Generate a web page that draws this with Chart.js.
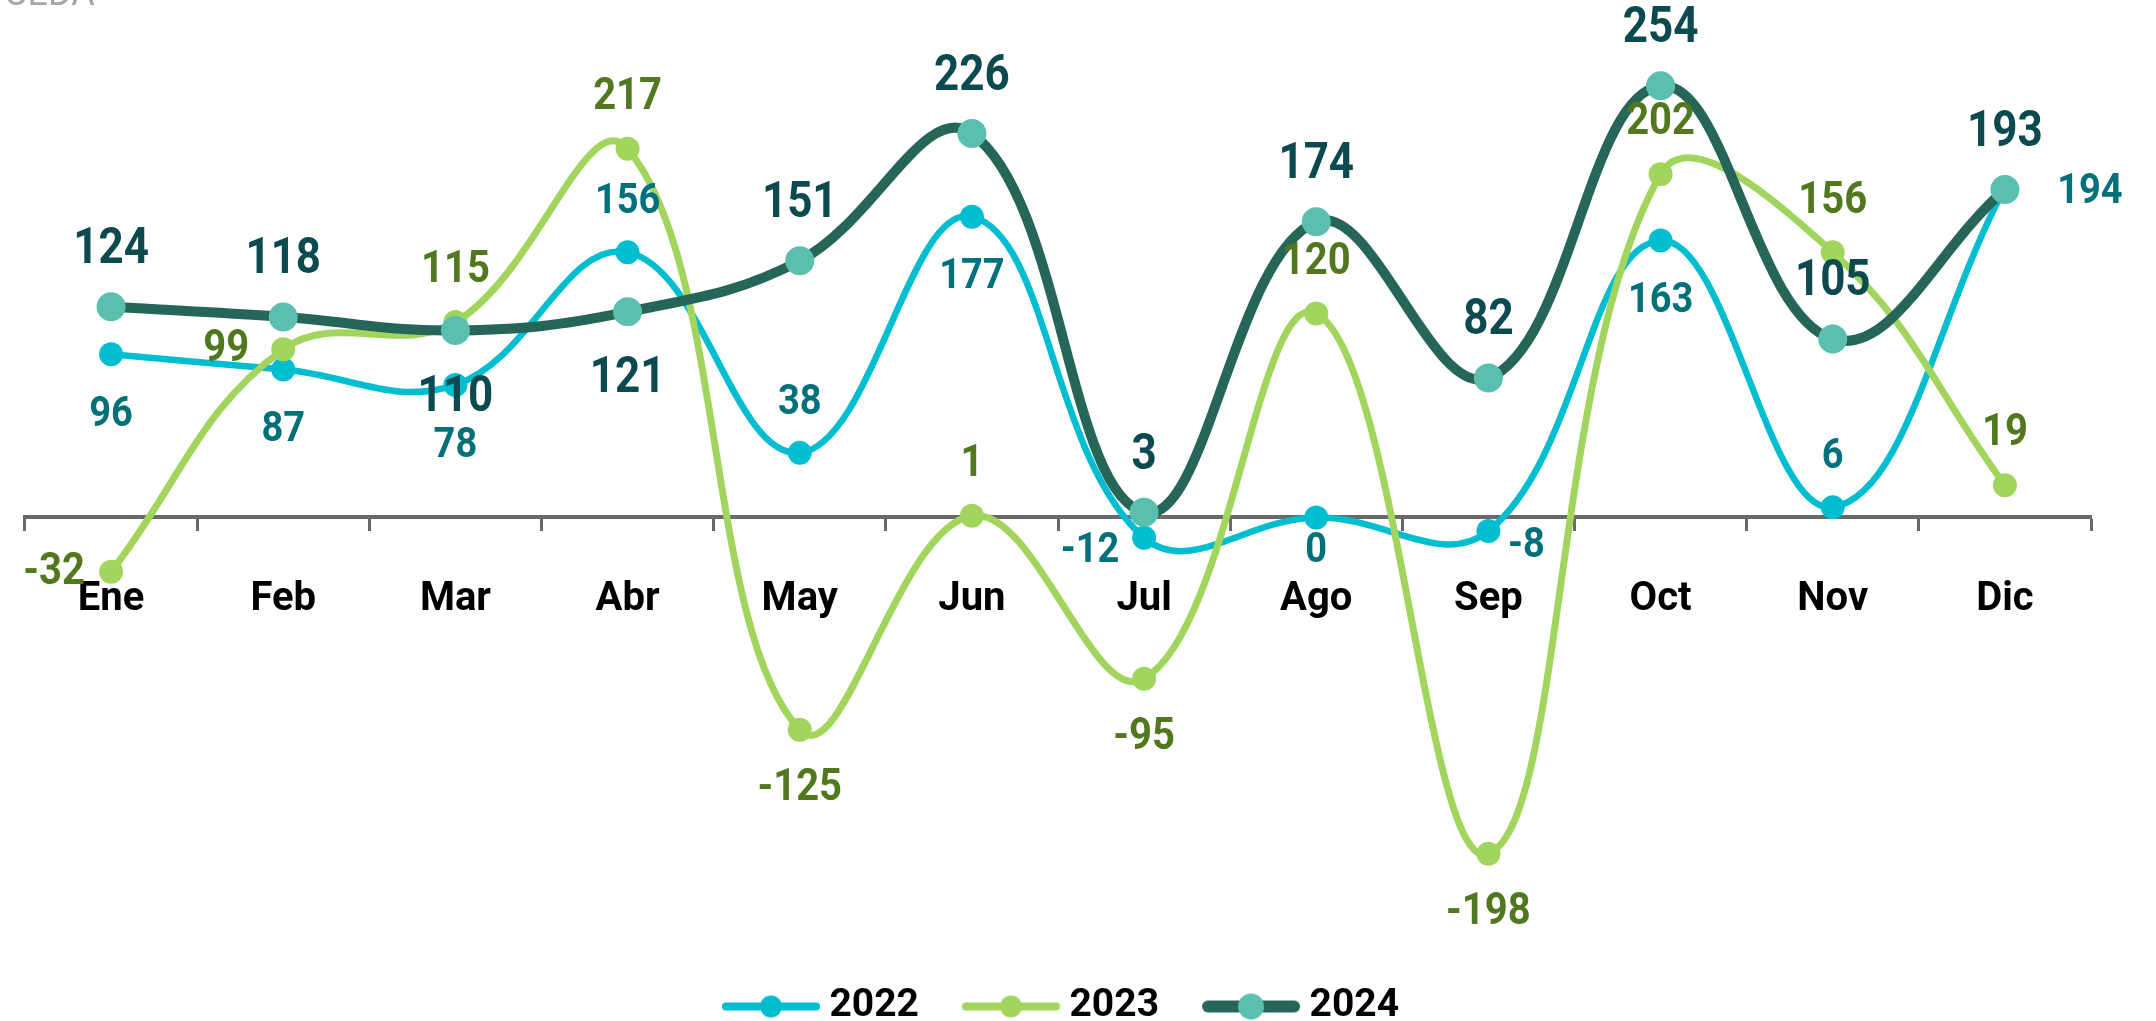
<!DOCTYPE html>
<html><head><meta charset="utf-8">
<script src="https://cdn.jsdelivr.net/npm/chart.js@4.4.1/dist/chart.umd.min.js"></script>
<style>html,body{margin:0;padding:0;background:#fff;overflow:hidden}#wrap{position:relative;width:2156px;height:1021px}</style>
</head><body><div id="wrap"><canvas id="c" width="2156" height="1021"></canvas></div>
<script>
// ---- data ----
const categories = ['Ene','Feb','Mar','Abr','May','Jun','Jul','Ago','Sep','Oct','Nov','Dic'];
const seriesNames = ['2022','2023','2024'];
const values2022 = [96, 87, 78, 156, 38, 177, -12, 0, -8, 163, 6, 194];
const values2023 = [-32, 99, 115, 217, -125, 1, -95, 120, -198, 202, 156, 19];
const values2024 = [124, 118, 110, 121, 151, 226, 3, 174, 82, 254, 105, 193];
const sourceText = 'CEDA';

// ---- styling ----
const yMin = -254, yMax = 296;
const lineColors = ['#00bed0', '#a2d55d', '#266659'];
const markerColors = ['#00bed0', '#a2d55d', '#5bbfb0'];
const lineWidths = [6.5, 7, 10];
const markerRadii = [12, 12, 14.5];
// label placement codes per point
const place2022 = ['b','b','b','a','a','b','l','c','r','b','a','R'];
const place2023 = ['l','l','a','a','b','a','b','a','b','a','a','a'];
const place2024 = ['a','a','b','b','a','a','a','a','a','a','a','a'];
const labelStyles = [
  { color: '#00707a', size: 38, place: place2022,
    offsets: { a: [0, -50], b: [0, 61], l: [-54, 14], r: [38, 15], R: [85, 5], c: [0, 34] } },
  { color: '#52781f', size: 40, place: place2023,
    offsets: { a: [0, -51], b: [0, 59], l: [-57, 1] } },
  { color: '#0c4a50', size: 44, place: place2024,
    offsets: { a: [0, -56], b: [0, 68] } }
];
const labelStretchY = 1.12;

function makeLegendIcon(i) {
  const cv = document.createElement('canvas');
  cv.width = 115; cv.height = 30;
  const c = cv.getContext('2d');
  const lw = i === 2 ? 12 : 8;
  c.strokeStyle = lineColors[i];
  c.lineWidth = lw;
  c.lineCap = 'round';
  c.beginPath(); c.moveTo(16 + lw / 2, 15); c.lineTo(114 - lw / 2, 15); c.stroke();
  c.fillStyle = markerColors[i];
  c.beginPath(); c.arc(65, 15, i === 2 ? 13 : 11, 0, Math.PI * 2); c.fill();
  return cv;
}
const legendIcons = [0, 1, 2].map(makeLegendIcon);

const labelPlugin = {
  id: 'pointLabels',
  afterDatasetsDraw(chart) {
    const ctx = chart.ctx;
    chart.data.datasets.forEach((ds, di) => {
      const meta = chart.getDatasetMeta(di);
      const st = labelStyles[di];
      meta.data.forEach((pt, i) => {
        const off = st.offsets[st.place[i]];
        ctx.save();
        ctx.font = 'bold ' + st.size + 'px Roboto';
        ctx.fillStyle = st.color;
        ctx.textAlign = 'center';
        ctx.textBaseline = 'middle';
        ctx.translate(pt.x + off[0], pt.y + off[1]);
        ctx.scale(1, labelStretchY);
        ctx.fillText(String(ds.data[i]), 0, 0);
        ctx.restore();
      });
    });
  },
  afterDraw(chart) {
    const ctx = chart.ctx;
    ctx.save();
    ctx.font = '36px Roboto';
    ctx.fillStyle = '#a6a6a6';
    ctx.textAlign = 'left';
    ctx.textBaseline = 'alphabetic';
    ctx.fillText(sourceText, 4, 5);
    ctx.restore();
  }
};

Chart.defaults.font.family = 'Roboto';

const seriesValues = [values2022, values2023, values2024];
const datasets = seriesNames.map((name, i) => ({
  label: name,
  data: seriesValues[i],
  borderColor: lineColors[i],
  backgroundColor: markerColors[i],
  borderWidth: lineWidths[i],
  pointRadius: markerRadii[i],
  pointHoverRadius: markerRadii[i],
  pointBackgroundColor: markerColors[i],
  pointBorderWidth: 0,
  tension: 0.4,
  fill: false,
  borderCapStyle: 'round',
  order: 3 - i
}));

new Chart(document.getElementById('c'), {
  type: 'line',
  data: { labels: categories, datasets },
  options: {
    responsive: false,
    animation: false,
    devicePixelRatio: 1,
    layout: { padding: { left: 25, right: 65, top: 1, bottom: -15 } },
    plugins: {
      legend: {
        position: 'bottom',
        align: 'center',
        labels: {
          usePointStyle: true,
          pointStyleWidth: 93,
          padding: 38,
          color: '#000',
          font: { size: 39, weight: 'bold' },
          generateLabels: (chart) => chart.data.datasets.map((ds, i) => ({
            text: ds.label,
            fillStyle: ds.borderColor,
            strokeStyle: ds.borderColor,
            lineWidth: 0,
            pointStyle: legendIcons[i],
            hidden: false,
            datasetIndex: i,
            fontColor: '#000'
          }))
        }
      },
      tooltip: { enabled: false }
    },
    scales: {
      x: {
        type: 'category',
        position: { y: 0 },
        offset: true,
        grid: { offset: true, drawOnChartArea: false, drawTicks: true, tickLength: 12, tickWidth: 3, tickColor: '#6b6868' },
        border: { display: true, color: '#6b6868', width: 4 },
        ticks: { color: '#000', font: { size: 40, weight: 'bold' }, padding: 47, maxRotation: 0, autoSkip: false }
      },
      y: { display: false, min: yMin, max: yMax }
    }
  },
  plugins: [labelPlugin]
});
</script>
</body></html>
